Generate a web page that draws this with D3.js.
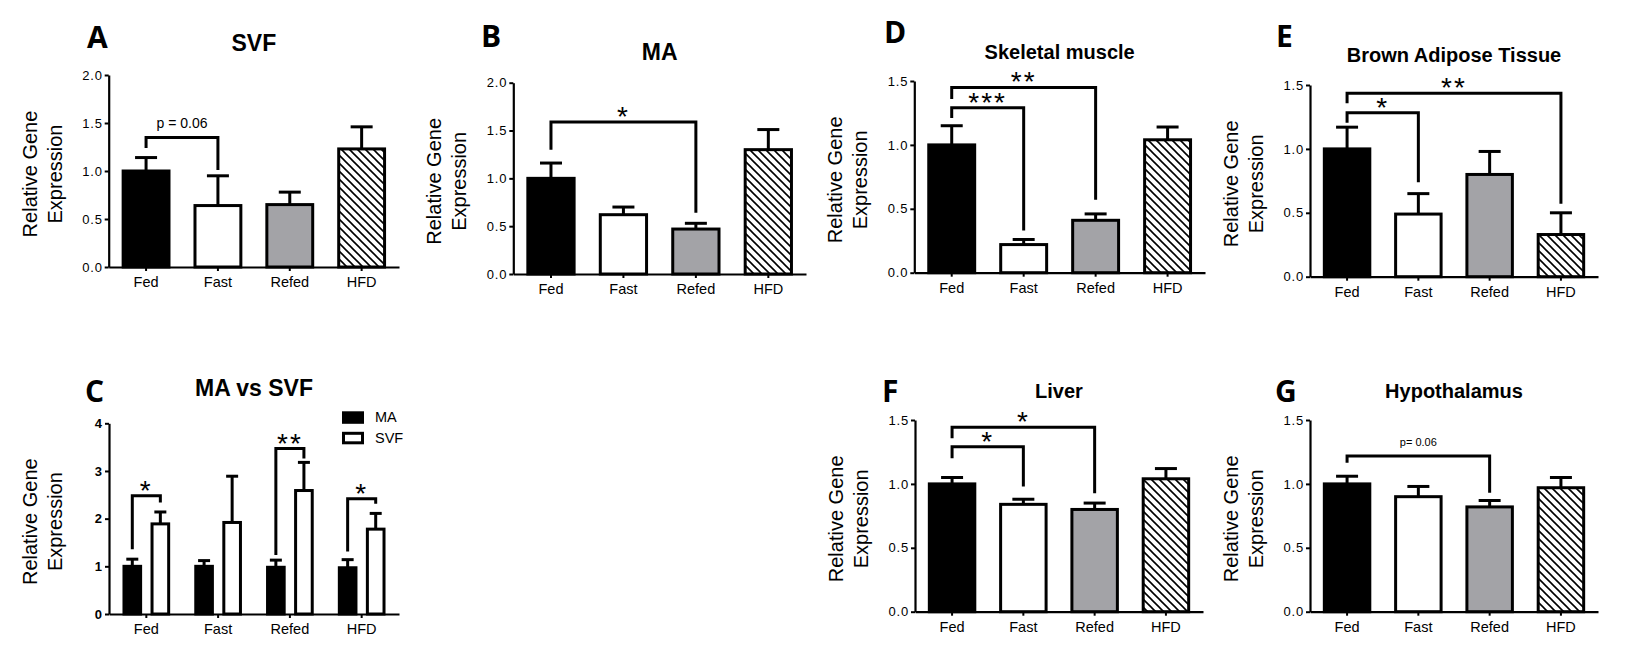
<!DOCTYPE html>
<html><head><meta charset="utf-8">
<script src="https://cdn.jsdelivr.net/npm/d3@7"></script>
<style>
body{margin:0;background:#fff}
svg{display:block}
text{font-family:"Liberation Sans",Arial,sans-serif;fill:#000}
</style>
</head><body>
<svg id="chart" width="1639" height="649"></svg>
<script>
// ---------- data ----------
const categories = ["Fed", "Fast", "Refed", "HFD"];
const seriesC = ["MA", "SVF"];

const svfMean = [1.00, 0.64, 0.65, 1.23];
const svfSem  = [0.14, 0.31, 0.13, 0.23];

const maMean = [1.00, 0.62, 0.47, 1.30];
const maSem  = [0.16, 0.08, 0.06, 0.21];

const cMaMean  = [1.00, 1.00, 0.98, 0.97];
const cMaSem   = [0.15, 0.12, 0.15, 0.17];
const cSvfMean = [1.89, 1.92, 2.59, 1.78];
const cSvfSem  = [0.25, 0.97, 0.59, 0.33];

const muscleMean = [1.00, 0.22, 0.41, 1.04];
const muscleSem  = [0.15, 0.04, 0.05, 0.10];

const batMean = [1.00, 0.49, 0.80, 0.33];
const batSem  = [0.17, 0.16, 0.18, 0.17];

const liverMean = [1.00, 0.84, 0.80, 1.04];
const liverSem  = [0.05, 0.04, 0.05, 0.08];

const hypoMean = [1.00, 0.90, 0.82, 0.97];
const hypoSem  = [0.06, 0.08, 0.05, 0.08];

const ticks2  = [0, 0.5, 1.0, 1.5, 2.0];
const ticks15 = [0, 0.5, 1.0, 1.5];
const ticks4  = [0, 1, 2, 3, 4];

// significance brackets (data units)
const bracketsA = [{from:"Fed", to:"Fast", top:1.35, left:1.24, right:1.01, label:"p = 0.06"}];
const bracketsB = [{from:"Fed", to:"Refed", top:1.59, left:1.30, right:0.64, label:"*"}];
const bracketsD = [{from:"Fed", to:"Fast", top:1.29, left:1.21, right:0.33, label:"***"},
                   {from:"Fed", to:"Refed", top:1.45, left:1.36, right:0.57, label:"**"}];
const bracketsE = [{from:"Fed", to:"Fast", top:1.283, left:1.205, right:0.74, label:"*"},
                   {from:"Fed", to:"HFD", top:1.435, left:1.357, right:0.57, label:"**"}];
const bracketsF = [{from:"Fed", to:"Fast", top:1.29, left:1.20, right:0.98, label:"*"},
                   {from:"Fed", to:"Refed", top:1.443, left:1.357, right:0.926, label:"*"}];
const bracketsG = [{from:"Fed", to:"Refed", top:1.218, left:1.166, right:0.93, label:"p= 0.06"}];
const bracketsC = [{group:"Fed", top:2.48, left:1.36, right:2.34, label:"*"},
                   {group:"Refed", top:3.47, left:1.24, right:3.26, label:"**"},
                   {group:"HFD", top:2.42, left:1.31, right:2.31, label:"*"}];

// ---------- drawing ----------
const svg = d3.select("#chart");
const fills = ["#000000", "#ffffff", "#a3a3a7", "url(#hatch)"];

const defs = svg.append("defs");
const pat = defs.append("pattern").attr("id","hatch").attr("patternUnits","userSpaceOnUse")
  .attr("width",8).attr("height",8);
pat.append("rect").attr("width",8).attr("height",8).attr("fill","#fff");
pat.append("path").attr("d","M-4,4 L4,12 M0,0 L8,8 M4,-4 L12,4")
  .attr("stroke","#000").attr("stroke-width",1.6);

function yLabel(g, axisX, y0, yTop){
  const cy = (y0 + yTop)/2 + 3;
  [["Relative Gene", axisX-79], ["Expression", axisX-54]].forEach(([t, cx]) => {
    g.append("text").attr("transform",`translate(${cx},${cy}) rotate(-90)`)
      .attr("text-anchor","middle").attr("dy","0.35em")
      .style("font-size","20px").text(t);
  });
}

function headings(g, cfg){
  g.append("text").attr("x",cfg.letterX).attr("y",cfg.letterY)
    .style("font-family","'Open Sans',sans-serif").style("font-weight","700")
    .style("font-size","30px").text(cfg.letter);
  g.append("text").attr("x",(cfg.axisX+cfg.xEnd)/2).attr("y",cfg.titleY + cfg.titleSize*0.36)
    .attr("text-anchor","middle").style("font-weight","700").style("font-size",cfg.titleSize+"px")
    .text(cfg.title);
}

function styleAxes(gx, gy, boldTicks){
  [gx, gy].forEach(a => {
    a.select(".domain").attr("stroke","#000").attr("stroke-width",2.2);
    a.selectAll(".tick line").attr("stroke","#000").attr("stroke-width",2);
  });
  gx.selectAll(".tick text").style("font-size","14.5px").style("font-family","'Liberation Sans',Arial,sans-serif");
  gy.selectAll(".tick text").style("font-size","13px").style("font-family","'Liberation Sans',Arial,sans-serif")
    .style("letter-spacing", boldTicks ? "0px" : "0.8px")
    .style("font-weight", boldTicks ? "700" : "400");
}

function drawBracket(g, x1, x2, yTop, yL, yR, label){
  g.append("path").attr("d",`M${x1},${yL} V${yTop} H${x2} V${yR}`)
    .attr("fill","none").attr("stroke","#000").attr("stroke-width",3);
  const star = label.indexOf("*") === 0;
  if (star){
    g.append("text").attr("x",(x1+x2)/2).attr("y",yTop-12+16)
      .attr("text-anchor","middle").style("font-size","28px")
      .style("letter-spacing","2px").text(label);
  } else {
    const small = label.indexOf("p=") === 0;
    g.append("text").attr("x",(x1+x2)/2).attr("y",yTop-14+(small?4:5))
      .attr("text-anchor","middle").style("font-size", small ? "11px" : "14px").text(label);
  }
}

function singlePanel(cfg){
  const g = svg.append("g");
  const x = d3.scaleBand().domain(categories).range([cfg.axisX, cfg.xEnd])
    .paddingInner(0.32).paddingOuter(0.18);
  const y = d3.scaleLinear().domain([0, cfg.max]).range([cfg.y0, cfg.yTop]);
  const data = categories.map((c,i) => ({c, m:cfg.mean[i], s:cfg.sem[i], f:fills[i]}));
  const cx = c => x(c) + x.bandwidth()/2;

  // error bars
  const eb = g.append("g").attr("stroke","#000").attr("stroke-width",3);
  data.forEach(d => {
    eb.append("line").attr("x1",cx(d.c)).attr("x2",cx(d.c)).attr("y1",y(d.m)).attr("y2",y(d.m+d.s));
    eb.append("line").attr("x1",cx(d.c)-11).attr("x2",cx(d.c)+11).attr("y1",y(d.m+d.s)).attr("y2",y(d.m+d.s));
  });
  // bars
  g.selectAll("rect.bar").data(data).join("rect").attr("class","bar")
    .attr("x",d => x(d.c)+1.5).attr("width",x.bandwidth()-3)
    .attr("y",d => y(d.m)).attr("height",d => cfg.y0 - y(d.m))
    .attr("fill",d => d.f).attr("stroke","#000").attr("stroke-width",3);

  const gx = g.append("g").attr("transform",`translate(0,${cfg.y0})`)
    .call(d3.axisBottom(x).tickSize(4).tickSizeOuter(0).tickPadding(6));
  const gy = g.append("g").attr("transform",`translate(${cfg.axisX},0)`)
    .call(d3.axisLeft(y).tickValues(cfg.ticks).tickFormat(d3.format(".1f"))
      .tickSize(4).tickSizeOuter(0).tickPadding(2));
  styleAxes(gx, gy, false);

  cfg.brackets.forEach(b => drawBracket(g, cx(b.from), cx(b.to), y(b.top), y(b.left), y(b.right), b.label));
  yLabel(g, cfg.axisX, cfg.y0, cfg.yTop);
  headings(g, cfg);
}

function groupedPanel(cfg){
  const g = svg.append("g");
  const x0 = d3.scaleBand().domain(categories).range([cfg.axisX, cfg.xEnd])
    .paddingInner(0.32).paddingOuter(0.18);
  const x1 = d3.scaleBand().domain(seriesC).range([0, x0.bandwidth()])
    .paddingInner(0.3).paddingOuter(0.02);
  const y = d3.scaleLinear().domain([0, cfg.max]).range([cfg.y0, cfg.yTop]);
  const means = {MA: cMaMean, SVF: cSvfMean};
  const sems = {MA: cMaSem, SVF: cSvfSem};
  const sFill = {MA: "#000", SVF: "#fff"};
  const data = [];
  categories.forEach((c,i) => seriesC.forEach(s => data.push({c, s, m:means[s][i], e:sems[s][i]})));
  const bx = d => x0(d.c) + x1(d.s);
  const bc = (c, s) => x0(c) + x1(s) + x1.bandwidth()/2;

  const eb = g.append("g").attr("stroke","#000").attr("stroke-width",3);
  data.forEach(d => {
    const c = bc(d.c, d.s);
    eb.append("line").attr("x1",c).attr("x2",c).attr("y1",y(d.m)).attr("y2",y(d.m+d.e));
    eb.append("line").attr("x1",c-6).attr("x2",c+6).attr("y1",y(d.m+d.e)).attr("y2",y(d.m+d.e));
  });
  g.selectAll("rect.bar").data(data).join("rect").attr("class","bar")
    .attr("x",d => bx(d)+1.5).attr("width",x1.bandwidth()-3)
    .attr("y",d => y(d.m)).attr("height",d => cfg.y0 - y(d.m))
    .attr("fill",d => sFill[d.s]).attr("stroke","#000").attr("stroke-width",3);

  const gx = g.append("g").attr("transform",`translate(0,${cfg.y0})`)
    .call(d3.axisBottom(x0).tickSize(4).tickSizeOuter(0).tickPadding(6));
  const gy = g.append("g").attr("transform",`translate(${cfg.axisX},0)`)
    .call(d3.axisLeft(y).tickValues(cfg.ticks).tickFormat(d3.format("d"))
      .tickSize(4).tickSizeOuter(0).tickPadding(3));
  styleAxes(gx, gy, true);

  cfg.brackets.forEach(b => drawBracket(g, bc(b.group,"MA"), bc(b.group,"SVF"), y(b.top), y(b.left), y(b.right), b.label));

  // legend
  const lg = g.append("g").attr("transform",`translate(${cfg.xEnd-57},${cfg.yTop-12})`);
  seriesC.forEach((s,i) => {
    lg.append("rect").attr("x",1.5).attr("y",i*20.5+1.5).attr("width",19).attr("height",9.5)
      .attr("fill",sFill[s]).attr("stroke","#000").attr("stroke-width",3);
    lg.append("text").attr("x",33).attr("y",i*20.5+6).attr("dy","0.35em")
      .style("font-size","14.5px").text(s);
  });

  yLabel(g, cfg.axisX, cfg.y0, cfg.yTop);
  headings(g, cfg);
}

singlePanel({letter:"A", title:"SVF", titleSize:23, mean:svfMean, sem:svfSem, ticks:ticks2, max:2, brackets:bracketsA,
  axisX:108.7, xEnd:399, y0:267, yTop:75, letterX:87, letterY:48, titleY:43});
singlePanel({letter:"B", title:"MA", titleSize:23, mean:maMean, sem:maSem, ticks:ticks2, max:2, brackets:bracketsB,
  axisX:513.3, xEnd:806, y0:274, yTop:82.7, letterX:481, letterY:47, titleY:52});
groupedPanel({letter:"C", title:"MA vs SVF", titleSize:23, ticks:ticks4, max:4, brackets:bracketsC,
  axisX:109, xEnd:399, y0:614, yTop:423.3, letterX:85, letterY:402, titleY:388});
singlePanel({letter:"D", title:"Skeletal muscle", titleSize:20, mean:muscleMean, sem:muscleSem, ticks:ticks15, max:1.5, brackets:bracketsD,
  axisX:914.3, xEnd:1205, y0:272.7, yTop:81, letterX:884, letterY:43, titleY:52});
singlePanel({letter:"E", title:"Brown Adipose Tissue", titleSize:20, mean:batMean, sem:batSem, ticks:ticks15, max:1.5, brackets:bracketsE,
  axisX:1310, xEnd:1598, y0:276.7, yTop:85, letterX:1276, letterY:47, titleY:55});
singlePanel({letter:"F", title:"Liver", titleSize:20, mean:liverMean, sem:liverSem, ticks:ticks15, max:1.5, brackets:bracketsF,
  axisX:915, xEnd:1203, y0:611.7, yTop:420, letterX:882, letterY:402, titleY:391});
singlePanel({letter:"G", title:"Hypothalamus", titleSize:20, mean:hypoMean, sem:hypoSem, ticks:ticks15, max:1.5, brackets:bracketsG,
  axisX:1310, xEnd:1598, y0:611.7, yTop:420, letterX:1275, letterY:402, titleY:391});
</script>
</body></html>
